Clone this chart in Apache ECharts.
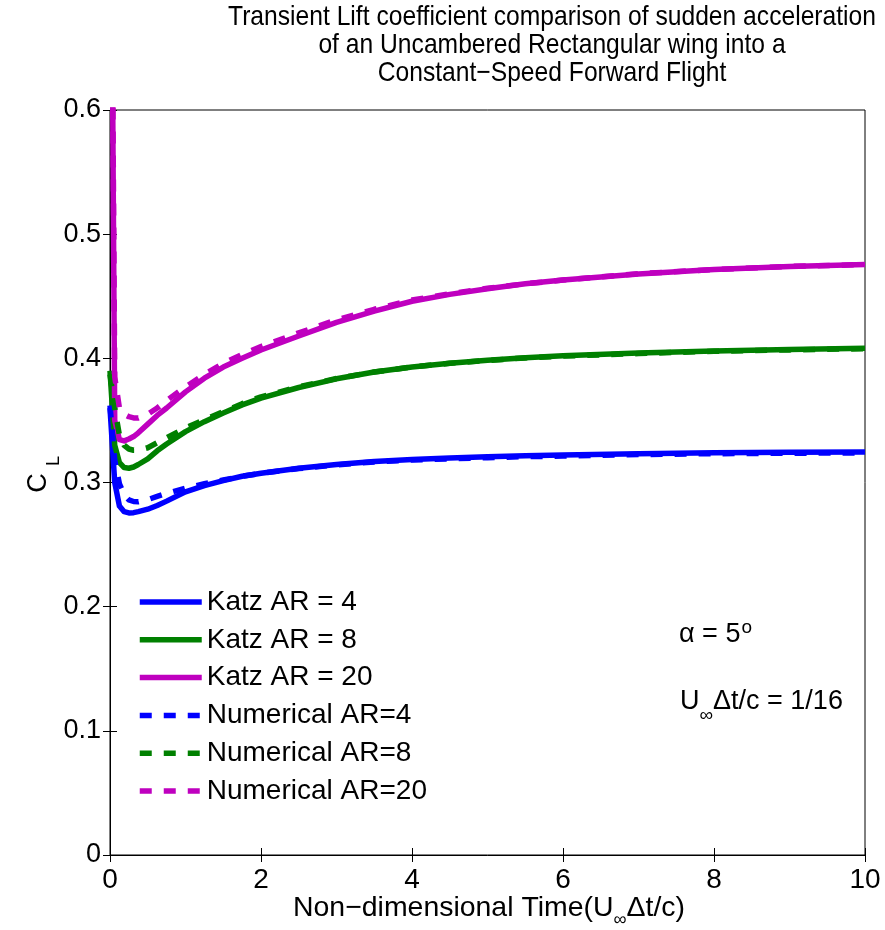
<!DOCTYPE html>
<html><head><meta charset="utf-8">
<script src="https://cdn.jsdelivr.net/npm/echarts@6/dist/echarts.min.js"></script>
<style>html,body{margin:0;padding:0;background:#fff}#c{width:885px;height:930px}</style>
</head><body><div id="c"></div>
<script>
// ---------- data ----------
const time = [0, 0.0625, 0.125, 0.1875, 0.25, 0.3125, 0.375, 0.5, 0.625, 0.75, 1, 1.25, 1.5, 1.75, 2, 2.5, 3, 3.5, 4, 4.5, 5, 5.5, 6, 7, 8, 9, 10];
const katzAR4 = [0.36, 0.300, 0.281, 0.2765, 0.2755, 0.2757, 0.2765, 0.2785, 0.2815, 0.285, 0.2925, 0.2975, 0.3015, 0.305, 0.3075, 0.3115, 0.3145, 0.317, 0.3185, 0.3197, 0.3207, 0.3215, 0.3221, 0.3232, 0.324, 0.3244, 0.3246];
const katzAR8 = [0.39, 0.330, 0.316, 0.312, 0.3115, 0.3125, 0.3145, 0.319, 0.3255, 0.331, 0.341, 0.349, 0.356, 0.3625, 0.368, 0.3765, 0.3835, 0.389, 0.393, 0.396, 0.3985, 0.4005, 0.402, 0.4042, 0.406, 0.4072, 0.4082];
const katzAR20 = [0.95, 0.350, 0.3345, 0.3335, 0.335, 0.337, 0.340, 0.347, 0.354, 0.360, 0.373, 0.384, 0.393, 0.400, 0.4067, 0.418, 0.429, 0.438, 0.446, 0.4515, 0.456, 0.460, 0.463, 0.468, 0.4715, 0.474, 0.4755];
const numAR4 = [0.362, 0.318, 0.299, 0.290, 0.286, 0.2847, 0.2845, 0.2862, 0.2888, 0.2912, 0.2955, 0.299, 0.302, 0.305, 0.3074, 0.3112, 0.3142, 0.3166, 0.3181, 0.3191, 0.320, 0.3208, 0.3213, 0.3225, 0.3232, 0.3236, 0.3238];
const numAR8 = [0.387, 0.360, 0.338, 0.330, 0.327, 0.326, 0.326, 0.328, 0.332, 0.336, 0.344, 0.3505, 0.357, 0.3635, 0.369, 0.377, 0.3838, 0.389, 0.393, 0.396, 0.3983, 0.4003, 0.4018, 0.4038, 0.4057, 0.4068, 0.4078];
const numAR20 = [0.95, 0.385, 0.360, 0.355, 0.353, 0.352, 0.352, 0.355, 0.360, 0.366, 0.377, 0.387, 0.396, 0.403, 0.4095, 0.4205, 0.431, 0.4395, 0.447, 0.452, 0.4565, 0.460, 0.463, 0.4682, 0.4715, 0.474, 0.4755];
const seriesNames = ['Katz AR = 4', 'Katz AR = 8', 'Katz AR = 20', 'Numerical AR=4', 'Numerical AR=8', 'Numerical AR=20'];
const xTicks = [0, 2, 4, 6, 8, 10];
const yTicks = [0, 0.1, 0.2, 0.3, 0.4, 0.5, 0.6];
const titleLines = ['Transient Lift coefficient comparison of sudden acceleration', 'of an Uncambered Rectangular wing into a', 'Constant\u2212Speed Forward Flight'];

// ---------- styling ----------
const BLUE = '#0000ff', GREEN = '#008000', MAG = '#bf00bf';
const colorsOf = [BLUE, GREEN, MAG, BLUE, GREEN, MAG];
const dashedOf = [false, false, false, true, true, true];
const LW = 5.5, DASH = [12, 12];
const FONT = '"Liberation Sans", Arial, sans-serif';
const ctx = document.createElement('canvas').getContext('2d');
function tw(text, size, fam) { ctx.font = size + 'px ' + fam; return ctx.measureText(text).width; }

const chart = echarts.init(document.getElementById('c'), null, { renderer: 'canvas' });

function mk(i, arr) {
  return {
    name: seriesNames[i], type: 'line', symbol: 'none', clip: true,
    data: time.map((t, k) => [t, arr[k]]),
    lineStyle: { color: colorsOf[i], width: LW, type: dashedOf[i] ? DASH : 'solid', cap: 'butt', join: 'round' },
    itemStyle: { color: colorsOf[i] },
    emphasis: { disabled: true }, animation: false
  };
}

const graphics = [];
// title
const TS = 28;
const tScale = 648 / tw(titleLines[0], TS, FONT);
titleLines.forEach((ln, i) => {
  graphics.push({ type: 'text', x: 552, y: 17 + i * 28, scaleX: tScale,
    style: { text: ln, font: TS + 'px ' + FONT, fill: '#000', align: 'center', verticalAlign: 'middle' } });
});
// y axis name C_L
graphics.push({ type: 'text', x: 39, y: 483, rotation: Math.PI / 2,
  style: { text: 'C', font: '27px ' + FONT, fill: '#000', align: 'center', verticalAlign: 'middle' } });
graphics.push({ type: 'text', x: 54, y: 461, rotation: Math.PI / 2,
  style: { text: 'L', font: '18px ' + FONT, fill: '#000', align: 'center', verticalAlign: 'middle' } });
// x axis name with subscript
(function () {
  const fam = FONT, s1 = 'Non\u2212dimensional Time(U', s2 = '\u221e', s3 = '\u0394t/c)';
  const f1 = 28, f2 = 18;
  const w1 = tw(s1, f1, fam), w2 = tw(s2, f2, fam), w3 = tw(s3, f1, fam);
  const total = w1 + w2 + w3;
  const sc = 392 / total;
  const cx = 489, y = 908;
  const children = [
    { type: 'text', x: 0, y: 0, style: { text: s1, font: f1 + 'px ' + fam, fill: '#000', align: 'left', verticalAlign: 'middle' } },
    { type: 'text', x: w1, y: 12, style: { text: s2, font: f2 + 'px ' + fam, fill: '#000', align: 'left', verticalAlign: 'middle' } },
    { type: 'text', x: w1 + w2, y: 0, style: { text: s3, font: f1 + 'px ' + fam, fill: '#000', align: 'left', verticalAlign: 'middle' } }
  ];
  graphics.push({ type: 'group', x: cx - total * sc / 2, y: y, scaleX: sc, children: children });
})();
// annotations
(function () {
  const f = 27;
  const a = '\u03b1 = 5';
  graphics.push({ type: 'text', x: 679, y: 635, style: { text: a, font: f + 'px ' + FONT, fill: '#000', align: 'left', verticalAlign: 'middle' } });
  graphics.push({ type: 'text', x: 679 + tw(a, f, FONT) + 1, y: 628, style: { text: 'o', font: '19px ' + FONT, fill: '#000', align: 'left', verticalAlign: 'middle' } });
  const u = 'U', inf = '\u221e', rest = '\u0394t/c = 1/16';
  const wu = tw(u, f, FONT), wi = tw(inf, 19, FONT);
  graphics.push({ type: 'text', x: 680, y: 702, style: { text: u, font: f + 'px ' + FONT, fill: '#000', align: 'left', verticalAlign: 'middle' } });
  graphics.push({ type: 'text', x: 680 + wu, y: 716, style: { text: inf, font: '19px ' + FONT, fill: '#000', align: 'left', verticalAlign: 'middle' } });
  graphics.push({ type: 'text', x: 680 + wu + wi, y: 702, style: { text: rest, font: f + 'px ' + FONT, fill: '#000', align: 'left', verticalAlign: 'middle' } });
})();

const tickStyle = { show: true, inside: true, length: 7, lineStyle: { color: '#000', width: 1 } };

chart.setOption({
  animation: false,
  backgroundColor: '#fff',
  grid: { left: 110, right: 20, top: 110, bottom: 75, show: true, borderColor: '#000', borderWidth: 1, backgroundColor: 'transparent' },
  legend: {
    orient: 'vertical', left: 137, top: 588, padding: 0, itemWidth: 62, itemHeight: 28, itemGap: 9.8,
    selectedMode: false,
    itemStyle: { opacity: 0 },
    textStyle: { fontFamily: FONT, fontSize: 28, color: '#000', lineHeight: 28 },
    data: seriesNames.map((n, i) => ({
      name: n,
      itemStyle: { opacity: 0 },
      lineStyle: { color: colorsOf[i], width: LW, type: dashedOf[i] ? DASH : 'solid', cap: 'butt' }
    }))
  },
  xAxis: [{
    type: 'value', min: xTicks[0], max: xTicks[xTicks.length - 1], interval: xTicks[1] - xTicks[0], position: 'bottom',
    axisLine: { show: true, onZero: false, lineStyle: { color: '#000', width: 1 } },
    axisTick: tickStyle, splitLine: { show: false },
    axisLabel: { color: '#000', fontFamily: FONT, fontSize: 28, margin: 11 }
  }, {
    type: 'value', min: xTicks[0], max: xTicks[xTicks.length - 1], interval: xTicks[1] - xTicks[0], position: 'top',
    axisLine: { show: false }, axisTick: tickStyle, axisLabel: { show: false }, splitLine: { show: false }
  }],
  yAxis: [{
    type: 'value', min: yTicks[0], max: yTicks[yTicks.length - 1], interval: 0.1,
    axisLine: { show: true, onZero: false, lineStyle: { color: '#000', width: 1 } },
    axisTick: tickStyle, splitLine: { show: false },
    axisLabel: { color: '#000', fontFamily: FONT, fontSize: 27, margin: 9, formatter: v => (Math.abs(v) < 1e-9 ? '0' : (+v).toFixed(1)) }
  }, {
    type: 'value', min: yTicks[0], max: yTicks[yTicks.length - 1], interval: 0.1, position: 'right',
    axisLine: { show: false }, axisTick: tickStyle, axisLabel: { show: false }, splitLine: { show: false }
  }],
  series: [
    mk(0, katzAR4), mk(1, katzAR8), mk(2, katzAR20),
    mk(3, numAR4), mk(4, numAR8), mk(5, numAR20)
  ],
  graphic: graphics
});
</script>
</body></html>
